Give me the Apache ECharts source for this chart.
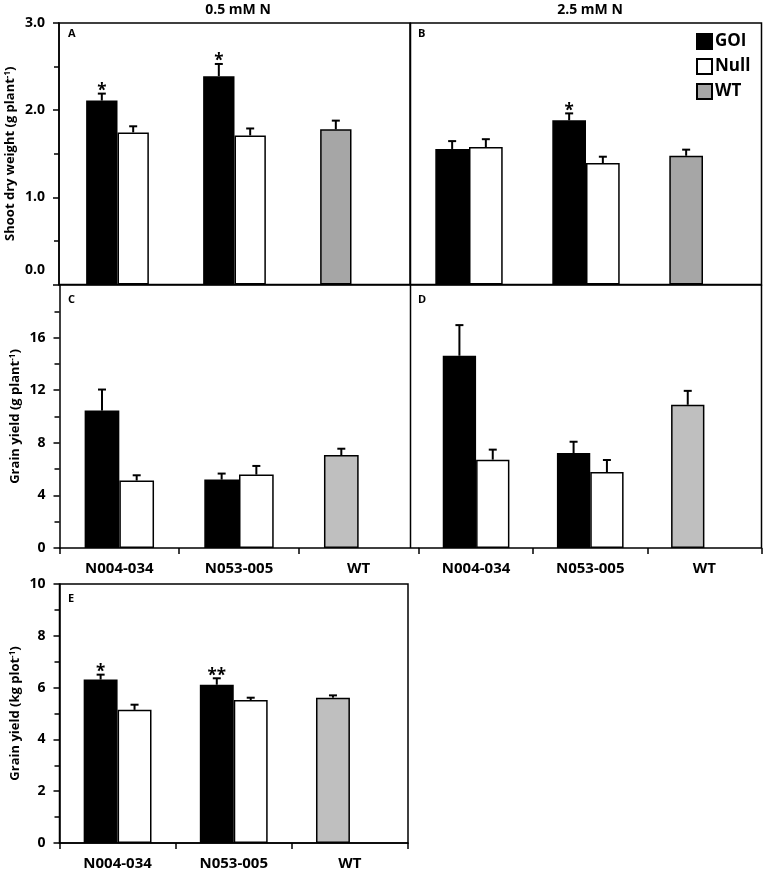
<!DOCTYPE html>
<html><head><meta charset="utf-8">
<script src="https://cdn.jsdelivr.net/npm/echarts@6/dist/echarts.min.js"></script>
<style>html,body{margin:0;padding:0;background:#fff}#c{width:764px;height:871px}</style>
</head><body><div id="c"></div>
<script>
const categories = ['N004-034', 'N053-005', 'WT'];
const legendNames = ['GOI', 'Null', 'WT'];
const titles = ['0.5 mM N', '2.5 mM N'];
const panelLetters = ['A', 'B', 'C', 'D', 'E'];
const yNames = ['Shoot dry weight (g plant{sup|-1})', 'Grain yield (g plant{sup|-1})', 'Grain yield (kg plot{sup|-1})'];

// Panel A: shoot dry weight, 0.5 mM N
const A_goi = [2.11, 2.39], A_goiErr = [0.08, 0.14];
const A_null = [1.745, 1.71], A_nullErr = [0.07, 0.08];
const A_wt = [1.78], A_wtErr = [0.10];
const A_sig = ['*', '*'];
// Panel B: shoot dry weight, 2.5 mM N
const B_goi = [1.555, 1.883], B_goiErr = [0.09, 0.08];
const B_null = [1.577, 1.393], B_nullErr = [0.09, 0.073];
const B_wt = [1.477], B_wtErr = [0.07];
const B_sig = ['', '*'];
// Panel C: grain yield, 0.5 mM N
const C_goi = [10.45, 5.2], C_goiErr = [1.6, 0.46];
const C_null = [5.13, 5.58], C_nullErr = [0.4, 0.66];
const C_wt = [7.07], C_wtErr = [0.48];
const C_sig = ['', ''];
// Panel D: grain yield, 2.5 mM N
const D_goi = [14.62, 7.22], D_goiErr = [2.33, 0.86];
const D_null = [6.72, 5.78], D_nullErr = [0.76, 0.91];
const D_wt = [10.89], D_wtErr = [1.06];
const D_sig = ['', ''];
// Panel E: field grain yield
const E_goi = [6.31, 6.11], E_goiErr = [0.19, 0.25];
const E_null = [5.14, 5.52], E_nullErr = [0.2, 0.09];
const E_wt = [5.61], E_wtErr = [0.09];
const E_sig = ['*', '**'];

const F = 'Open Sans';
const chart = echarts.init(document.getElementById('c'));

const grids = [
  {left: 59, top: 23, width: 351, height: 261.5, show: true, borderColor: '#000', borderWidth: 1.5},
  {left: 410.5, top: 23, width: 351, height: 261.5, show: true, borderColor: '#000', borderWidth: 1.5},
  {left: 59.5, top: 285, width: 359, height: 263},
  {left: 419, top: 285, width: 342.5, height: 263},
  {left: 59.5, top: 584, width: 348.5, height: 262, show: true, borderColor: '#000', borderWidth: 1.5}
];
const ratios = [0.268, 0.288, 0.29, 0.292, 0.292];
const wtColors = ['#a6a6a6', '#a6a6a6', '#bfbfbf', '#bfbfbf', '#bfbfbf'];

const xAxes = grids.map((g, i) => ({
  type: 'category', gridIndex: i, data: categories,
  axisLine: {show: true, lineStyle: {color: '#000', width: 1.5}},
  axisTick: {show: i >= 2, length: 6, lineStyle: {color: '#000', width: 1.5}},
  axisLabel: {show: i >= 2, color: '#000', fontFamily: F, fontWeight: 'bold', fontSize: 15, margin: 13}
}));

function yAxis(i, max, interval, showLabels, name, fmt, nameGap) {
  return {
    type: 'value', gridIndex: i, min: 0, max: max, interval: interval,
    name: name, nameLocation: 'middle', nameGap: nameGap,
    nameTextStyle: {color: '#000', fontFamily: F, fontWeight: 'bold', fontSize: 13,
      rich: {sup: {fontSize: 8, fontFamily: F, fontWeight: 'bold', color: '#000', verticalAlign: 'top', lineHeight: 10}}},
    axisLine: {show: showLabels, lineStyle: {color: '#000', width: 1.5}},
    axisTick: {show: showLabels, length: 6, lineStyle: {color: '#000', width: 1.5}},
    minorTick: {show: showLabels, splitNumber: 2, length: 5, lineStyle: {color: '#000', width: 1.5}},
    splitLine: {show: false},
    axisLabel: {show: showLabels, color: '#000', fontFamily: F, fontWeight: 'bold', fontSize: 14, margin: 14,
      formatter: fmt, rich: {z: {fontFamily: F, fontWeight: 'bold', fontSize: 14, color: '#000', padding: [0, 0, 28, 0]}}}
  };
}
const yAxes = [
  yAxis(0, 3, 1, true, yNames[0], v => v === 0 ? '{z|0.0}' : v.toFixed(1), 42),
  yAxis(1, 3, 1, false, '', null, 20),
  yAxis(2, 20, 4, true, yNames[1], v => v === 20 ? '' : String(v), 38),
  yAxis(3, 20, 4, false, '', null, 20),
  yAxis(4, 10, 2, true, yNames[2], v => String(v), 38)
];

const panels = [
  [A_goi, A_goiErr, A_null, A_nullErr, A_wt, A_wtErr, A_sig],
  [B_goi, B_goiErr, B_null, B_nullErr, B_wt, B_wtErr, B_sig],
  [C_goi, C_goiErr, C_null, C_nullErr, C_wt, C_wtErr, C_sig],
  [D_goi, D_goiErr, D_null, D_nullErr, D_wt, D_wtErr, D_sig],
  [E_goi, E_goiErr, E_null, E_nullErr, E_wt, E_wtErr, E_sig]
];

const series = [];
panels.forEach((p, i) => {
  const [goi, goiErr, nul, nulErr, wt, wtErr, sig] = p;
  const bw = (ratios[i] * 100) + '%';
  const base = {type: 'bar', xAxisIndex: i, yAxisIndex: i, barWidth: bw, barGap: '0%', silent: true};
  series.push(Object.assign({}, base, {name: 'GOI', stack: 's' + i, data: [goi[0], goi[1], '-'],
    itemStyle: {color: '#000', borderColor: '#000', borderWidth: 1.5}}));
  series.push(Object.assign({}, base, {name: 'WT', stack: 's' + i, data: ['-', '-', wt[0]],
    itemStyle: {color: wtColors[i], borderColor: '#000', borderWidth: 1.5}}));
  series.push(Object.assign({}, base, {name: 'Null', data: [nul[0], nul[1], '-'],
    itemStyle: {color: '#fff', borderColor: '#000', borderWidth: 1.5}}));
  const errData = [
    [0, goi[0], goiErr[0], 0], [1, goi[1], goiErr[1], 0],
    [0, nul[0], nulErr[0], 1], [1, nul[1], nulErr[1], 1],
    [2, wt[0], wtErr[0], 0]
  ];
  const errSig = [sig[0], sig[1], '', '', ''];
  const ratio = ratios[i];
  series.push({
    type: 'custom', xAxisIndex: i, yAxisIndex: i, z: 5, silent: true,
    encode: {x: 0, y: 1}, data: errData,
    renderItem: function (params, api) {
      const cat = api.value(0), v = api.value(1), e = api.value(2), slot = api.value(3);
      const band = api.size([1, 0])[0];
      const w = band * ratio;
      const p0 = api.coord([cat, v]);
      const p1 = api.coord([cat, v + e]);
      const x = p0[0] + (slot === 0 ? -w / 2 : w / 2);
      const children = [
        {type: 'line', shape: {x1: x, y1: p0[1], x2: x, y2: p1[1]}, style: {stroke: '#000', lineWidth: 2}},
        {type: 'line', shape: {x1: x - 4, y1: p1[1], x2: x + 4, y2: p1[1]}, style: {stroke: '#000', lineWidth: 2}}
      ];
      const s = errSig[params.dataIndex];
      if (s) {
        children.push({type: 'text', style: {text: s, x: x, y: p1[1] + 6, align: 'center', verticalAlign: 'bottom',
          fill: '#000', font: 'bold 17px "Open Sans"'}});
      }
      return {type: 'group', children: children};
    }
  });
});

const titleStyle = {color: '#000', fontFamily: F, fontWeight: 'bold', fontSize: 14};
const letterStyle = {color: '#000', fontFamily: F, fontWeight: 'bold', fontSize: 11};
const letterPos = [[68, 28], [418, 28], [68, 294], [418, 294], [68, 593]];

chart.setOption({
  animation: false,
  title: [
    {text: titles[0], left: 233, top: -2, textAlign: 'center', textStyle: titleStyle},
    {text: titles[1], left: 585, top: -2, textAlign: 'center', textStyle: titleStyle}
  ].concat(panelLetters.map((l, k) => ({text: l, left: letterPos[k][0], top: letterPos[k][1], padding: 0, textStyle: letterStyle}))),
  legend: {
    data: legendNames, orient: 'vertical', left: 696, top: 33, itemWidth: 15, itemHeight: 15, itemGap: 8,
    padding: 0, selectedMode: false, icon: 'rect',
    textStyle: {color: '#000', fontFamily: F, fontWeight: 'bold', fontSize: 17, padding: [0, 0, 0, -2]}
  },
  grid: grids,
  xAxis: xAxes,
  yAxis: yAxes,
  series: series,
  graphic: [
    {type: 'line', shape: {x1: 410.5, y1: 285, x2: 410.5, y2: 548}, style: {stroke: '#000', lineWidth: 1.5}},
    {type: 'line', shape: {x1: 761.5, y1: 285, x2: 761.5, y2: 548}, style: {stroke: '#000', lineWidth: 1.5}}
  ]
});
</script></body></html>
